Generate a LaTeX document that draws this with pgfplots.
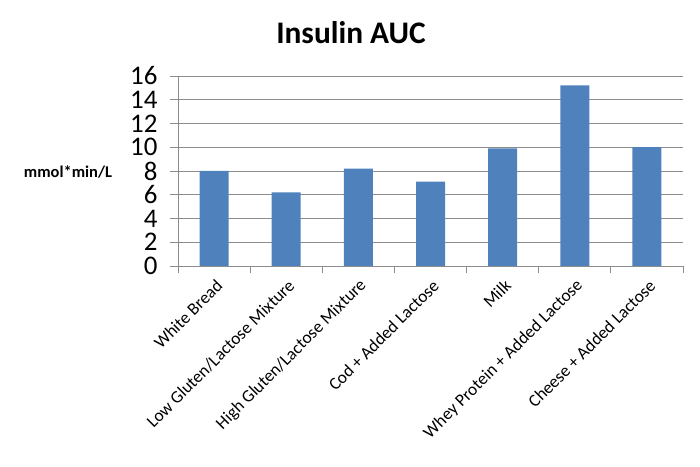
\documentclass[border=0pt]{standalone}
\usepackage{pgfplots}
\pgfplotsset{compat=1.18}
\usepackage{fontspec}
\setmainfont{Carlito}
\definecolor{barblue}{HTML}{4F81BD}
\definecolor{gridgray}{HTML}{8C8C8C}
\begin{document}
\begin{tikzpicture}[x=1bp,y=1bp]
\useasboundingbox (0,0) rectangle (700,467);
\node[font=\fontsize{31.5}{33}\selectfont\bfseries] at (351,434) {Insulin AUC};
\node[font=\fontsize{16.5}{18}\selectfont\bfseries] at (68,295) {mmol*min/L};
\begin{axis}[
  at={(178bp,201bp)}, anchor=south west,
  scale only axis, width=505bp, height=190bp,
  xmin=-0.5, xmax=6.5, ymin=0, ymax=16,
  ytick={0,2,...,16},
  ymajorgrids, grid style={gridgray, line width=0.8pt},
  axis x line*=bottom, axis y line*=left,
  axis line style={gridgray, line width=0.8pt, -},
  major y tick style={gridgray, line width=0.8pt},
  major tick length=8bp,
  xtick={0,...,6},
  xticklabels={White Bread, Low Gluten/Lactose Mixture, High Gluten/Lactose Mixture, Cod + Added Lactose, Milk, Whey Protein + Added Lactose, Cheese + Added Lactose},
  major x tick style={draw=none},
  minor xtick={-0.5,0.5,...,6.5},
  minor x tick style={gridgray, line width=0.8pt},
  minor tick length=7bp,
  tick align=outside,
  xtick pos=bottom, ytick pos=left,
  /pgf/number format/assume math mode=true,
  yticklabel style={font=\fontsize{27}{29}\selectfont, xshift=-9bp},
  xticklabel style={font=\fontsize{17.5}{19}\selectfont, rotate=45, anchor=east, xshift=1bp, yshift=-10bp},
  ybar, bar width=29bp,
  clip=false,
]
\addplot[fill=barblue, draw=none] coordinates {(0,8.0) (1,6.2) (2,8.2) (3,7.1) (4,9.9) (5,15.2) (6,10.0)};
\end{axis}
\end{tikzpicture}
\end{document}
